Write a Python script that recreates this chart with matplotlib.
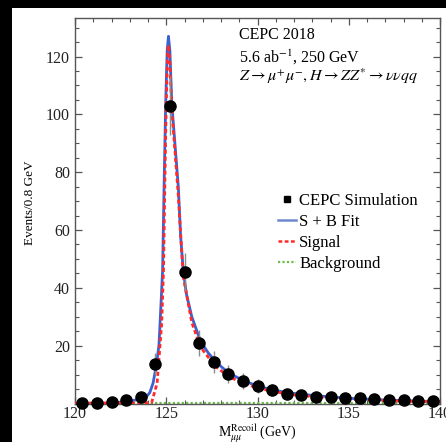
import matplotlib
import matplotlib.pyplot as plt
import numpy as np
from matplotlib.lines import Line2D
from matplotlib.patches import Rectangle
from matplotlib.ticker import MultipleLocator

matplotlib.use("Agg")
plt.rcParams["font.family"] = ["Liberation Serif", "DejaVu Serif"]
plt.rcParams["mathtext.fontset"] = "stix"

# binned simulation, 0.8 GeV bins
bin_centers = [120.4, 121.2, 122.0, 122.8, 123.6, 124.4, 125.2, 126.0, 126.8, 127.6,
               128.4, 129.2, 130.0, 130.8, 131.6, 132.4, 133.2, 134.0, 134.8, 135.6,
               136.4, 137.2, 138.0, 138.8, 139.6]
events = [0.1, 0.1, 0.6, 1.2, 2.1, 13.7, 103.0, 45.5, 20.9, 14.3,
          10.2, 7.8, 6.0, 4.7, 3.3, 2.9, 2.3, 2.3, 1.9, 1.9,
          1.6, 1.2, 1.2, 0.9, 0.9]
event_errors = [0.3, 0.3, 0.8, 1.1, 1.5, 3.7, 10.1, 6.7, 4.6, 3.8,
                3.2, 2.8, 2.4, 2.2, 1.8, 1.7, 1.5, 1.5, 1.4, 1.4,
                1.3, 1.1, 1.1, 0.9, 0.9]

# curves
fit_x = [122.0, 122.8, 123.4, 123.9, 124.1, 124.28, 124.47, 124.6, 124.66, 124.8,
         124.88, 124.97, 125.05, 125.12, 125.2, 125.3, 125.66, 125.79, 125.93, 126.1,
         126.4, 126.88, 127.3, 127.67, 128.0, 128.44, 129.26, 130.03, 130.84, 131.6,
         132.4, 133.2, 134.0, 135.0, 136.0, 137.0, 138.0, 139.0, 140.0]
fit_y = [0.2, 0.6, 1.3, 2.2, 3.8, 7.1, 13.7, 20.2, 27.7, 46.0,
         75.0, 104.0, 122.0, 127.0, 122.0, 104.0, 75.0, 57.6, 46.0, 38.0,
         30.0, 21.5, 17.5, 14.8, 12.8, 10.5, 7.8, 6.0, 4.7, 3.8,
         3.2, 2.7, 2.3, 1.8, 1.5, 1.2, 1.0, 0.8, 0.7]

sig_x = [120.0, 124.2, 124.5, 124.75, 124.85, 124.92, 125.0, 125.07, 125.12, 125.2,
         125.3, 125.66, 125.93, 126.4, 126.88, 127.67, 128.44, 129.26, 130.03, 131.0,
         132.0, 133.0, 134.0, 135.0, 136.0, 137.0, 138.0, 139.0, 140.0]
sig_y = [0.1, 0.3, 7.1, 27.7, 46.0, 75.0, 104.0, 120.0, 124.0, 118.0,
         102.0, 72.0, 44.0, 28.0, 19.5, 13.0, 9.2, 7.0, 5.3, 4.0,
         3.0, 2.4, 1.9, 1.5, 1.2, 1.0, 0.8, 0.7, 0.6]

bkg_x = [120.0, 140.0]
bkg_y = [0.2, 0.2]

legend_labels = ["CEPC Simulation", "S + B Fit", "Signal", "Background"]

W, H = 446, 442
fig = plt.figure(figsize=(W / 100, H / 100), dpi=100, facecolor="black")
fig.patches.append(Rectangle((12 / W, 0), 1, (H - 8) / H, transform=fig.transFigure,
                             facecolor="white", edgecolor="none", zorder=-1))

ax = fig.add_axes([75 / W, (H - 403.5) / H, 365 / W, 386 / H])
ax.set_facecolor("white")

ax.plot(bkg_x, bkg_y, color="#6dbb4a", lw=1.6, ls=(0, (1, 1)), zorder=2)
ax.plot(fit_x, fit_y, color="#3a62d0", lw=2.0, zorder=3)
ax.plot(sig_x, sig_y, color="#ff2a2a", lw=2.0, ls=(0, (1.5, 1)), zorder=4)
ax.errorbar(bin_centers, events, yerr=event_errors, fmt="o", color="black",
            markersize=8, ecolor="#8c8c8c", elinewidth=1.0, capsize=0,
            zorder=5, clip_on=False)

ax.set_xlim(120, 140)
ax.set_ylim(0, 133.5)
ax.set_xticks([120, 125, 130, 135, 140])
ax.set_yticks([20, 40, 60, 80, 100, 120])
ax.xaxis.set_minor_locator(MultipleLocator(1))
ax.yaxis.set_minor_locator(MultipleLocator(5))
ax.tick_params(which="both", direction="in", top=True, right=True,
               color="#555555", labelsize=11.5, labelcolor="#222222")
ax.tick_params(which="major", length=5, width=0.9)
ax.tick_params(which="minor", length=2.8, width=0.8)
ax.tick_params(axis="x", pad=2)
for spine in ax.spines.values():
    spine.set_color("#555555")
    spine.set_linewidth(1.0)

ax.set_xlabel(r"M$_{\mu\mu}^{\mathrm{Recoil}}$ (GeV)", fontsize=10)
ax.xaxis.set_label_coords(0.5, -0.077)
ax.xaxis.label.set_verticalalignment("center")
ax.set_ylabel("Events/0.8 GeV", fontsize=9.5)
ax.yaxis.set_label_coords(-0.123, 0.52)
ax.yaxis.label.set_verticalalignment("center")

ax.text(0.449, 0.944, "CEPC 2018", transform=ax.transAxes, fontsize=11.5, va="baseline")
ax.text(0.449, 0.882, r"5.6 ab$^{-1}$, 250 GeV", transform=ax.transAxes, fontsize=11.5,
        va="baseline")
ax.text(0.449, 0.836, r"$Z\rightarrow\mu^{+}\mu^{-}, H\rightarrow ZZ^{*}\rightarrow\nu\nu qq$",
        transform=ax.transAxes, fontsize=11.5, va="baseline")

handles = [
    Line2D([], [], marker="s", color="black", ls="none", markersize=4),
    Line2D([], [], color="#7088d0", lw=1.8),
    Line2D([], [], color="#ff2a2a", lw=1.8, ls=(0, (1.5, 1))),
    Line2D([], [], color="#6dbb4a", lw=1.6, ls=(0, (1, 1))),
]
ax.legend(handles, legend_labels, loc="upper left", bbox_to_anchor=(0.555, 0.545),
          frameon=False, fontsize=12, handlelength=1.1, handletextpad=0.2,
          labelspacing=0.3, borderpad=0, borderaxespad=0)

fig.savefig("out.png", dpi=100, facecolor=fig.get_facecolor())
